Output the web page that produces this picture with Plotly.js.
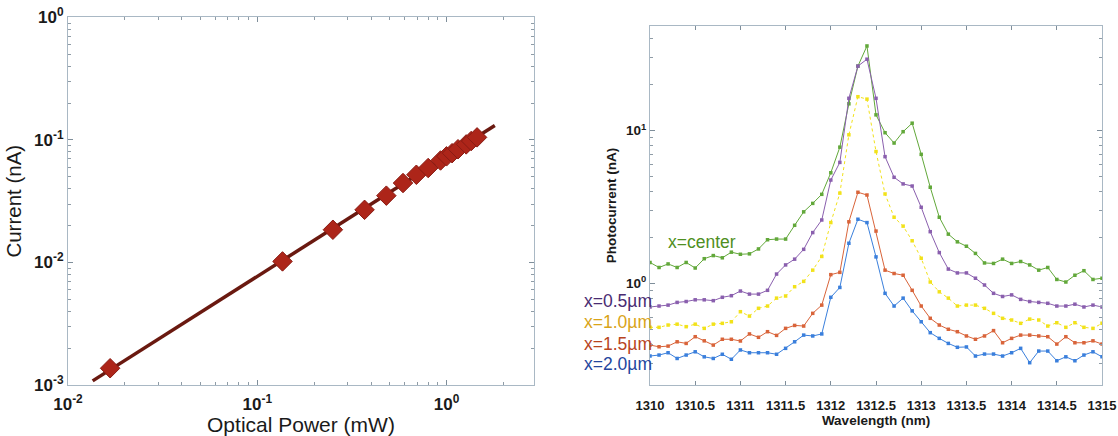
<!DOCTYPE html>
<html>
<head>
<meta charset="utf-8">
<script src="https://cdn.plot.ly/plotly-3.0.1.min.js"></script>
<style>html,body{margin:0;padding:0;background:#fff;}#chart{width:1118px;height:436px;}</style>
</head>
<body>
<div id="chart"></div>
<script>
// ---- Left panel: Current vs Optical Power ----
var powerMeas = [0.0167, 0.136, 0.251, 0.369, 0.481, 0.589, 0.693, 0.80, 0.93, 1.0, 1.07, 1.15, 1.27, 1.35, 1.45];
var currentMeas = [0.00137, 0.0102, 0.0185, 0.0269, 0.0351, 0.0445, 0.052, 0.059, 0.068, 0.0735, 0.078, 0.084, 0.092, 0.098, 0.105];
var powerFit = [0.0135, 1.8];
var currentFit = [0.00108, 0.131];
var leftXTickVals = [0.01, 0.1, 1];
var leftXTickText = ['10<sup>-2</sup>', '10<sup>-1</sup>', '10<sup>0</sup>'];
var leftYTickVals = [0.001, 0.01, 0.1, 1];
var leftYTickText = ['10<sup>-3</sup>', '10<sup>-2</sup>', '10<sup>-1</sup>', '10<sup>0</sup>'];

// ---- Right panel: Photocurrent vs Wavelength ----
var wavelength = [];
for (var i = 0; i <= 50; i++) wavelength.push(Math.round((1310 + i * 0.1) * 10) / 10);
var seriesNames = ['x=center', 'x=0.5µm', 'x=1.0µm', 'x=1.5µm', 'x=2.0µm'];
var currentCenter = [1.37, 1.27, 1.34, 1.27, 1.37, 1.26, 1.45, 1.52, 1.47, 1.60,
  1.55, 1.56, 1.68, 1.93, 1.95, 1.95, 2.4, 2.94, 3.34, 3.83,
  5.3, 7.8, 15.0, 26.5, 35.9, 12.7, 9.7, 8.3, 9.85, 11.2,
  7.0, 4.26, 2.71, 2.10, 1.87, 1.75, 1.57, 1.36, 1.35, 1.44,
  1.35, 1.39, 1.32, 1.22, 1.27, 1.06, 1.02, 1.13, 1.21, 1.06, 1.08];
var current05 = [0.70, 0.71, 0.72, 0.75, 0.76, 0.78, 0.78, 0.77, 0.81, 0.83,
  0.89, 0.85, 0.85, 0.90, 1.15, 1.32, 1.44, 1.67, 2.15, 2.60,
  4.75, 6.2, 16.3, 26.5, 29.4, 16.3, 6.76, 4.95, 4.48, 4.34,
  3.15, 2.18, 1.59, 1.24, 1.17, 1.17, 1.08, 0.975, 0.86, 0.82,
  0.84, 0.785, 0.76, 0.75, 0.74, 0.71, 0.71, 0.73, 0.70, 0.72, 0.70];
var current10 = [0.515, 0.515, 0.533, 0.54, 0.52, 0.54, 0.507, 0.54, 0.547, 0.56,
  0.652, 0.61, 0.686, 0.71, 0.80, 0.826, 0.95, 1.03, 1.22, 1.5,
  2.5, 3.9, 9.4, 16.7, 16.1, 7.3, 3.85, 2.71, 2.37, 1.90,
  1.46, 1.02, 0.88, 0.80, 0.71, 0.72, 0.72, 0.686, 0.636, 0.59,
  0.575, 0.547, 0.583, 0.575, 0.525, 0.552, 0.515, 0.552, 0.515, 0.507, 0.547];
var current15 = [0.394, 0.384, 0.388, 0.414, 0.404, 0.447, 0.42, 0.394, 0.43, 0.43,
  0.419, 0.466, 0.443, 0.482, 0.456, 0.507, 0.53, 0.525, 0.636, 0.72,
  1.14, 1.18, 2.53, 3.95, 3.79, 2.2, 1.22, 1.16, 1.13, 0.90,
  0.71, 0.59, 0.533, 0.50, 0.482, 0.452, 0.43, 0.452, 0.49, 0.408,
  0.436, 0.458, 0.458, 0.452, 0.447, 0.40, 0.447, 0.408, 0.408, 0.42, 0.40];
var current20 = [0.334, 0.339, 0.351, 0.322, 0.339, 0.356, 0.33, 0.322, 0.343, 0.318,
  0.366, 0.351, 0.351, 0.351, 0.343, 0.375, 0.414, 0.458, 0.452, 0.466,
  0.81, 0.94, 1.83, 2.63, 2.50, 1.49, 0.86, 0.71, 0.80, 0.66,
  0.56, 0.475, 0.436, 0.404, 0.381, 0.383, 0.334, 0.344, 0.344, 0.334,
  0.351, 0.375, 0.302, 0.36, 0.36, 0.311, 0.33, 0.311, 0.339, 0.356, 0.33];
var rightXTickVals = [1310, 1310.5, 1311, 1311.5, 1312, 1312.5, 1313, 1313.5, 1314, 1314.5, 1315];
var rightXTickText = ['1310', '1310.5', '1311', '1311.5', '1312', '1312.5', '1313', '1313.5', '1314', '1314.5', '1315'];
var rightYTickVals = [1, 10];
var rightYTickText = ['10<sup>0</sup>', '10<sup>1</sup>'];

var lineColors = ['#62a83a', '#8a5fae', '#f2e21a', '#d9643a', '#3a7fdc'];
var labelColors = ['#4f8f22', '#4a2c72', '#d9a418', '#b8441e', '#23469e'];
var seriesData = [currentCenter, current05, current10, current15, current20];

function minorVals(lo, hi) {
  var v = [];
  for (var e = lo; e < hi; e++) for (var m = 2; m <= 9; m++) v.push(m * Math.pow(10, e));
  return v;
}

var traces = [];
traces.push({x: powerFit, y: currentFit, xaxis: 'x', yaxis: 'y', mode: 'lines',
  line: {color: '#6a1910', width: 3.5}, showlegend: false, hoverinfo: 'skip'});
traces.push({x: powerMeas, y: currentMeas, xaxis: 'x', yaxis: 'y', mode: 'markers',
  marker: {symbol: 'diamond', size: 15, color: '#ad2519', line: {color: '#8a1c14', width: 1}}, showlegend: false});

for (var s = 0; s < 5; s++) {
  traces.push({x: wavelength, y: seriesData[s], xaxis: 'x2', yaxis: 'y2', mode: 'lines+markers', name: seriesNames[s],
    line: {color: lineColors[s], width: 1, dash: s === 2 ? 'dot' : 'solid'},
    marker: {symbol: 'square', size: 3.5, color: lineColors[s]}, showlegend: false});
}

var FAM = 'Liberation Sans, Arial, sans-serif';
var tickFont = {family: FAM, size: 17, color: '#1a1a1a', weight: 'bold'};
var axisCommon = {type: 'log', showgrid: false, zeroline: false, showline: true, linecolor: '#a9b8c4', linewidth: 1,
  mirror: 'ticks', ticks: 'inside', ticklen: 5, tickcolor: '#7f8e9a', tickmode: 'array', ticklabeloverflow: 'allow'};

var layout = {
  width: 1118, height: 436, margin: {l: 0, r: 0, t: 0, b: 0},
  paper_bgcolor: '#ffffff', plot_bgcolor: '#ffffff', showlegend: false,
  xaxis: Object.assign({}, axisCommon, {domain: [0.0608, 0.4776], range: [-2, 0.462], anchor: 'y',
    tickvals: leftXTickVals, ticktext: leftXTickText, tickfont: tickFont, ticklabelstandoff: 4,
    minor: {tickmode: 'array', tickvals: minorVals(-2, 1), ticks: 'inside', ticklen: 3, tickcolor: '#8f9ca6'},
    title: {text: 'Optical Power (mW)', font: {family: FAM, size: 21, color: '#1a1a1a'}, standoff: 0}}),
  yaxis: Object.assign({}, axisCommon, {domain: [0.117, 0.96], range: [-3, 0], anchor: 'x',
    tickvals: leftYTickVals, ticktext: leftYTickText, tickfont: tickFont,
    minor: {tickmode: 'array', tickvals: minorVals(-3, 0), ticks: 'inside', ticklen: 3, tickcolor: '#8f9ca6'},
    title: {text: 'Current (nA)', font: {family: FAM, size: 20.5, color: '#1a1a1a'}, standoff: 6}}),
  xaxis2: {domain: [0.5814, 0.9857], range: [1310, 1315], anchor: 'y2', showgrid: false, zeroline: false,
    showline: true, linecolor: '#a9b8c4', linewidth: 1, mirror: 'ticks', ticks: 'inside', ticklen: 4, tickcolor: '#7f8e9a',
    tickmode: 'array', tickvals: rightXTickVals, ticktext: rightXTickText, ticklabeloverflow: 'allow', ticklabelstandoff: 8,
    tickfont: {family: FAM, size: 13, color: '#1a1a1a', weight: 'bold'},
    title: {text: 'Wavelength (nm)', font: {family: FAM, size: 13.5, color: '#1a1a1a', weight: 'bold'}, standoff: 2}},
  yaxis2: Object.assign({}, axisCommon, {domain: [0.117, 0.9404], range: [-0.666, 1.686], anchor: 'x2',
    tickvals: rightYTickVals, ticktext: rightYTickText,
    tickfont: {family: FAM, size: 13.5, color: '#1a1a1a', weight: 'bold'},
    minor: {tickmode: 'array', tickvals: minorVals(-1, 2), ticks: 'inside', ticklen: 3, tickcolor: '#8f9ca6'},
    title: {text: 'Photocurrent (nA)', font: {family: FAM, size: 13.5, color: '#1a1a1a', weight: 'bold'}, standoff: 6}}),
  annotations: [
    {xref: 'x2', yref: 'y2', x: 1310.18, y: 0.27, text: seriesNames[0], showarrow: false, xanchor: 'left', yanchor: 'middle',
      font: {family: FAM, size: 17.5, color: labelColors[0]}},
    {xref: 'paper', yref: 'y2', x: 0.5846, y: -0.116, text: seriesNames[1], showarrow: false, xanchor: 'right', yanchor: 'middle',
      font: {family: FAM, size: 17.5, color: labelColors[1]}},
    {xref: 'paper', yref: 'y2', x: 0.5846, y: -0.254, text: seriesNames[2], showarrow: false, xanchor: 'right', yanchor: 'middle',
      font: {family: FAM, size: 17.5, color: labelColors[2]}},
    {xref: 'paper', yref: 'y2', x: 0.5846, y: -0.398, text: seriesNames[3], showarrow: false, xanchor: 'right', yanchor: 'middle',
      font: {family: FAM, size: 17.5, color: labelColors[3]}},
    {xref: 'paper', yref: 'y2', x: 0.5846, y: -0.529, text: seriesNames[4], showarrow: false, xanchor: 'right', yanchor: 'middle',
      font: {family: FAM, size: 17.5, color: labelColors[4]}}
  ]
};

Plotly.newPlot('chart', traces, layout, {staticPlot: true, displayModeBar: false});
</script>
</body>
</html>
